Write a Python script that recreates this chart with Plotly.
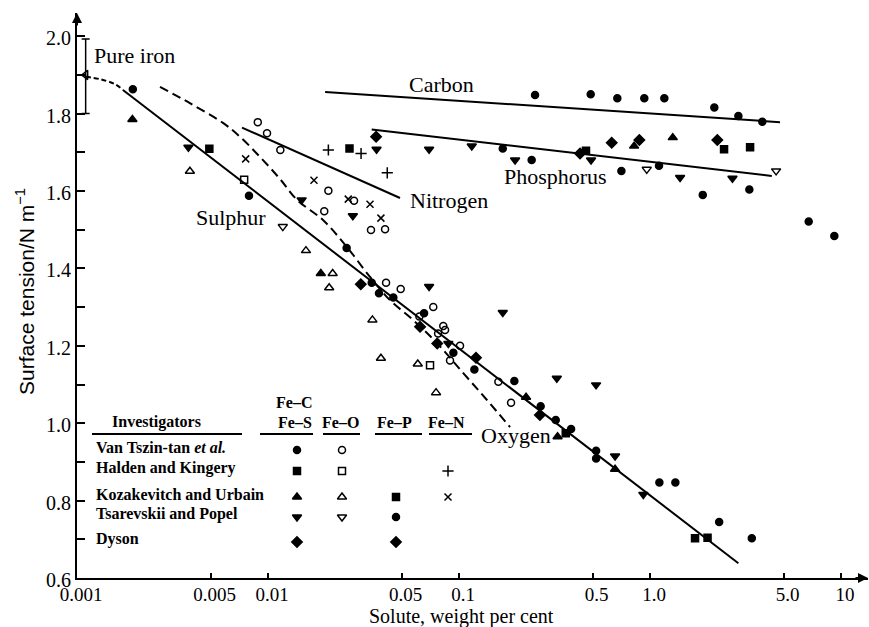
import plotly.graph_objects as go

# ---------------- measured surface tensions (N/m) vs solute (wt %) ----------------
# Van Tszin-tan et al.
vt_fes_x = [0.00196, 0.00795, 0.0258, 0.0349, 0.0381, 0.0453, 0.0656, 0.0934, 0.1203, 0.1948,
            0.2675, 0.3208, 0.386, 0.522, 0.522, 1.119, 1.357, 2.30, 3.41]
vt_fes_y = [1.863, 1.588, 1.453, 1.363, 1.336, 1.325, 1.284, 1.182, 1.139, 1.109,
            1.044, 1.008, 0.985, 0.929, 0.909, 0.847, 0.847, 0.745, 0.703]
vt_fec_x = [0.250, 0.489, 0.674, 0.933, 1.188, 2.17, 2.90, 3.87]
vt_fec_y = [1.848, 1.850, 1.840, 1.840, 1.840, 1.816, 1.794, 1.779]
vt_feo_x = [0.00884, 0.00988, 0.0116, 0.0207, 0.0197, 0.0282, 0.0346, 0.041, 0.0415, 0.0495,
            0.0733, 0.062, 0.0827, 0.0845, 0.0777, 0.1012, 0.0897, 0.1607, 0.1872]
vt_feo_y = [1.778, 1.749, 1.706, 1.601, 1.548, 1.575, 1.499, 1.501, 1.363, 1.347,
            1.300, 1.276, 1.251, 1.241, 1.232, 1.200, 1.162, 1.107, 1.053]

# Halden and Kingery
hk_fes_x = [0.00493, 0.0267, 0.362, 1.72, 2.00]
hk_fes_y = [1.709, 1.710, 0.974, 0.703, 0.704]
hk_feo_x = [0.0075, 0.0705]
hk_feo_y = [1.629, 1.150]
hk_fen_x = [0.0207, 0.0307, 0.0421]
hk_fen_y = [1.706, 1.697, 1.647]

# Kozakevitch and Urbain
ku_fes_x = [0.00195, 0.0189, 0.2243, 0.328, 0.656, 0.825, 1.315]
ku_fes_y = [1.785, 1.387, 1.067, 0.965, 0.881, 1.716, 1.738]
ku_feo_x = [0.00390, 0.0158, 0.0218, 0.0209, 0.0352, 0.039, 0.0608, 0.0758]
ku_feo_y = [1.651, 1.446, 1.387, 1.350, 1.267, 1.168, 1.153, 1.079]
ku_fep_x = [0.462, 2.44, 3.34]
ku_fep_y = [1.704, 1.708, 1.713]
ku_fen_x = [0.00764, 0.0174, 0.0263, 0.0342, 0.039]
ku_fen_y = [1.683, 1.628, 1.579, 1.566, 1.530]

# Tsarevskii and Popel
tp_fes_x = [0.00383, 0.015, 0.0278, 0.0697, 0.0879, 0.1694, 0.325, 0.5217, 0.656, 0.922,
            0.037, 0.0697, 0.1166, 0.1965, 0.491, 1.436, 2.70]
tp_fes_y = [1.713, 1.577, 1.536, 1.353, 1.206, 1.286, 1.116, 1.099, 0.915, 0.816,
            1.708, 1.708, 1.716, 1.680, 1.680, 1.635, 1.633]
tp_feo_x = [0.01195, 0.961, 4.57]
tp_feo_y = [1.508, 1.656, 1.652]
tp_fep_x = [0.1694, 0.240, 0.708, 1.114, 1.888, 3.31, 6.77, 9.22]
tp_fep_y = [1.710, 1.680, 1.652, 1.665, 1.590, 1.604, 1.521, 1.484]

# Dyson
dy_fes_x = [0.0306, 0.0625, 0.0769, 0.1227, 0.265]
dy_fes_y = [1.359, 1.249, 1.206, 1.169, 1.021]
dy_fep_x = [0.0368, 0.430, 0.630, 0.879, 2.25]
dy_fep_y = [1.740, 1.697, 1.725, 1.732, 1.732]

# Pure iron reference value with its spread
pure_x = [0.00111]
pure_y = [1.90]
pure_err_plus = [0.093]
pure_err_minus = [0.10]

# ---------------- fitted curves ----------------
lead_in_x = [0.00111, 0.00132, 0.00158, 0.00174]
lead_in_y = [1.895, 1.889, 1.876, 1.861]
sulphur_x = [0.00174, 2.90]
sulphur_y = [1.861, 0.638]
oxygen_x = [0.00272, 0.0039, 0.00581, 0.00714, 0.00908, 0.01156, 0.0142, 0.0194,
            0.0259, 0.0342, 0.0435, 0.0574, 0.0767, 0.105, 0.140, 0.185]
oxygen_y = [1.869, 1.827, 1.776, 1.740, 1.688, 1.631, 1.577, 1.525,
            1.455, 1.378, 1.318, 1.267, 1.207, 1.130, 1.060, 0.990]
nitrogen_x = [0.00731, 0.0491]
nitrogen_y = [1.764, 1.582]
carbon_x = [0.0199, 4.79]
carbon_y = [1.856, 1.778]
phosphorus_x = [0.0349, 4.34]
phosphorus_y = [1.759, 1.639]

# ---------------- axis ticks ----------------
x_tickvals = [0.001, 0.005, 0.01, 0.05, 0.1, 0.5, 1.0, 5.0, 10]
x_ticktext = ["0.001", "0.005", "0.01", "0.05", "0.1", "0.5", "1.0", "5.0", "10"]
y_tickvals = [0.6, 0.8, 1.0, 1.2, 1.4, 1.6, 1.8, 2.0]

SERIF = "Liberation Serif"
SANS = "Liberation Sans"
INK = "black"

# plot-area geometry in pixels (used to place the key and titles)
PX_L, PX_R, PX_T, PX_B = 77, 868, 13, 578

fig = go.Figure()


def add_points(xs, ys, symbol, size=7):
    fig.add_trace(go.Scatter(
        x=xs, y=ys, mode="markers", showlegend=False, hoverinfo="skip",
        marker=dict(symbol=symbol, size=size, color=INK,
                    line=dict(color=INK, width=1.5)),
    ))


def add_curve(xs, ys, dash="solid", shape="linear"):
    fig.add_trace(go.Scatter(
        x=xs, y=ys, mode="lines", showlegend=False, hoverinfo="skip",
        line=dict(color=INK, width=2, dash=dash, shape=shape),
    ))


add_curve(lead_in_x, lead_in_y, dash="5px,3px", shape="spline")
add_curve(sulphur_x, sulphur_y)
add_curve(oxygen_x, oxygen_y, dash="9px,5px", shape="spline")
add_curve(nitrogen_x, nitrogen_y)
add_curve(carbon_x, carbon_y)
add_curve(phosphorus_x, phosphorus_y)

add_points(vt_fes_x, vt_fes_y, "circle")
add_points(vt_fec_x, vt_fec_y, "circle")
add_points(vt_feo_x, vt_feo_y, "circle-open")
add_points(hk_fes_x, hk_fes_y, "square")
add_points(hk_feo_x, hk_feo_y, "square-open")
add_points(hk_fen_x, hk_fen_y, "cross-thin-open", 8)
add_points(ku_fes_x, ku_fes_y, "triangle-up", 8)
add_points(ku_feo_x, ku_feo_y, "triangle-up-open", 8)
add_points(ku_fep_x, ku_fep_y, "square")
add_points(ku_fen_x, ku_fen_y, "x-thin-open", 7)
add_points(tp_fes_x, tp_fes_y, "triangle-down", 8)
add_points(tp_feo_x, tp_feo_y, "triangle-down-open", 8)
add_points(tp_fep_x, tp_fep_y, "circle")
add_points(dy_fes_x, dy_fes_y, "diamond", 8)
add_points(dy_fep_x, dy_fep_y, "diamond", 8)

fig.add_trace(go.Scatter(
    x=pure_x, y=pure_y, mode="markers", showlegend=False, hoverinfo="skip",
    cliponaxis=False,
    marker=dict(symbol="triangle-left-open", size=8, color=INK,
                line=dict(color=INK, width=1.5)),
    error_y=dict(type="data", symmetric=False, array=pure_err_plus,
                 arrayminus=pure_err_minus, width=4, thickness=1.5, color=INK),
))

# ---------------- key table (pixel-space overlay) ----------------
col_x = {"S": 297, "O": 342, "P": 396, "N": 448}
row_y = [450, 471, 497, 517, 542]
row_names = ["Van Tszin-tan <i>et al.</i>", "Halden and Kingery",
             "Kozakevitch and Urbain", "Tsarevskii and Popel", "Dyson"]
key_symbols = [
    [("S", "circle", 7), ("O", "circle-open", 7)],
    [("S", "square", 7), ("O", "square-open", 7), ("N", "cross-thin-open", 8)],
    [("S", "triangle-up", 8), ("O", "triangle-up-open", 8), ("P", "square", 7), ("N", "x-thin-open", 7)],
    [("S", "triangle-down", 8), ("O", "triangle-down-open", 8), ("P", "circle", 7)],
    [("S", "diamond", 8), ("P", "diamond", 8)],
]
for r, items in enumerate(key_symbols):
    for col, sym, sz in items:
        fig.add_trace(go.Scatter(
            x=[col_x[col]], y=[row_y[r]], xaxis="x2", yaxis="y2", mode="markers",
            showlegend=False, hoverinfo="skip",
            marker=dict(symbol=sym, size=sz, color=INK, line=dict(color=INK, width=1.5)),
        ))

annotations = []


def text(x, y, s, size=22, family=SERIF, xanchor="left", weight="normal", angle=0):
    annotations.append(dict(
        x=x, y=y, xref="x2", yref="y2", text=s, showarrow=False,
        xanchor=xanchor, yanchor="middle", textangle=angle,
        font=dict(family=family, size=size, color=INK, weight=weight),
    ))


def paper_text(px, py, s, size, family, angle=0):
    annotations.append(dict(
        x=(px - PX_L) / (PX_R - PX_L), y=(PX_B - py) / (PX_B - PX_T),
        xref="paper", yref="paper", text=s, showarrow=False,
        xanchor="center", yanchor="middle", textangle=angle,
        font=dict(family=family, size=size, color=INK),
    ))


# curve labels
text(92, 55, "Pure iron")
text(407, 84, "Carbon")
text(502, 176, "Phosphorus")
text(408, 200, "Nitrogen")
text(194, 217, "Sulphur")
text(479, 435, "Oxygen")

# key headers and rows
KEY = 16
text(156, 422, "Investigators", KEY, xanchor="center", weight="bold")
text(294, 402, "Fe–C", KEY, xanchor="center", weight="bold")
for col, lab in [("S", "Fe–S"), ("O", "Fe–O"), ("P", "Fe–P"), ("N", "Fe–N")]:
    text(col_x[col] - 2, 422, lab, KEY, xanchor="center", weight="bold")
for r, name in enumerate(row_names):
    text(94, row_y[r] - 3, name, KEY, weight="bold")

# axis titles
paper_text(461, 616, "Solute, weight per cent", 20, SERIF)
paper_text(25, 292, "Surface tension/N m<sup>−1</sup>", 21, SANS, angle=-90)

# axis arrowheads
annotations.append(dict(x=0, y=1, xref="paper", yref="paper", ax=0, ay=14,
                        showarrow=True, arrowhead=2, arrowsize=1, arrowwidth=2,
                        arrowcolor=INK, text=""))
annotations.append(dict(x=1, y=0, xref="paper", yref="paper", ax=-14, ay=0,
                        showarrow=True, arrowhead=2, arrowsize=1, arrowwidth=2,
                        arrowcolor=INK, text=""))

shapes = []
for x0, x1 in [(92, 242), (260, 313), (323, 360), (375, 422), (429, 472)]:
    shapes.append(dict(type="line", xref="x2", yref="y2", x0=x0, x1=x1, y0=434, y1=434,
                       line=dict(color=INK, width=2)))

fig.update_layout(
    width=869, height=627,
    margin=dict(l=PX_L, r=869 - PX_R, t=PX_T, b=627 - PX_B),
    paper_bgcolor="white", plot_bgcolor="white",
    showlegend=False,
    annotations=annotations,
    shapes=shapes,
    xaxis=dict(
        type="log", range=[-3, 1.141],
        tickvals=x_tickvals, ticktext=x_ticktext,
        ticks="inside", ticklen=5, tickwidth=1.5, tickcolor=INK,
        showline=True, linewidth=2, linecolor=INK,
        showgrid=False, zeroline=False, ticklabelshift=4, ticklabelstandoff=-2,
        tickfont=dict(family=SERIF, size=19, color=INK),
    ),
    yaxis=dict(
        range=[0.6, 2.06],
        tickvals=y_tickvals, tickformat=".1f",
        ticks="inside", ticklen=8, tickwidth=1.5, tickcolor=INK,
        minor=dict(dtick=0.1, tick0=0.6, ticks="inside", ticklen=8, tickwidth=1.5, tickcolor=INK),
        showline=True, linewidth=2, linecolor=INK,
        showgrid=False, zeroline=False, ticklabelshift=2,
        tickfont=dict(family=SERIF, size=20, color=INK),
    ),
    xaxis2=dict(overlaying="x", range=[PX_L, PX_R], visible=False, fixedrange=True),
    yaxis2=dict(overlaying="y", range=[PX_B, PX_T], visible=False, fixedrange=True),
)

fig.write_html("out.html")
